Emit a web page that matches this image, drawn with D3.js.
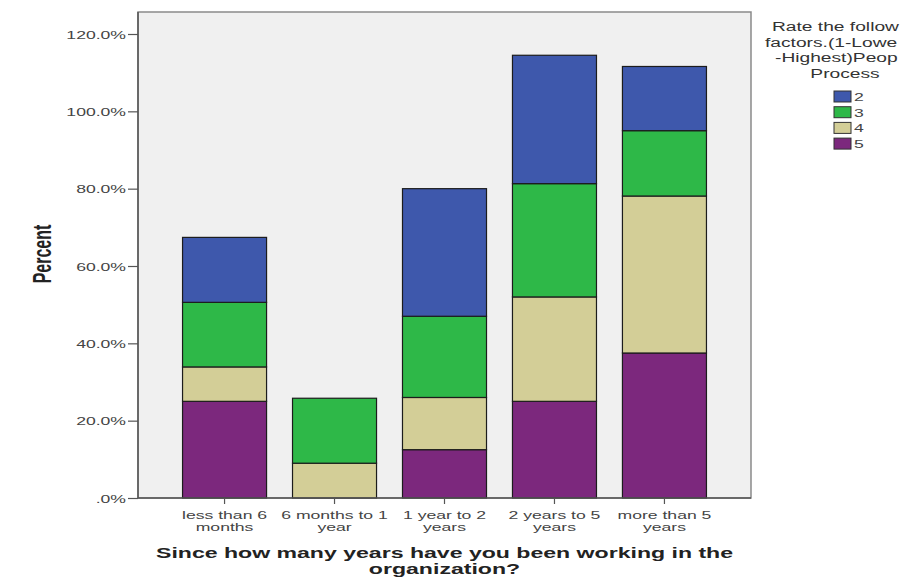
<!DOCTYPE html>
<html>
<head>
<meta charset="utf-8">
<script src="https://cdn.jsdelivr.net/npm/d3@7"></script>
<style>
  html, body { margin: 0; padding: 0; background: #ffffff; }
  svg { display: block; font-family: Arial, "Liberation Sans", sans-serif; }
</style>
</head>
<body>
<svg id="chart" width="903" height="583"></svg>
<script>
// ---- data ----
const categories = ["less than 6 months", "6 months to 1 year", "1 year to 2 years", "2 years to 5 years", "more than 5 years"];
const categoryLines = [["less than 6", "months"], ["6 months to 1", "year"], ["1 year to 2", "years"], ["2 years to 5", "years"], ["more than 5", "years"]];
const stackKeys = ["5", "4", "3", "2"];           // bottom to top
const rate5 = [25.0, 0.0, 12.5, 25.0, 37.5];
const rate4 = [8.9, 9.0, 13.5, 27.0, 40.6];
const rate3 = [16.7, 16.8, 21.0, 29.3, 16.9];
const rate2 = [16.8, 0.0, 33.0, 33.2, 16.6];
const yTicks = [0, 20, 40, 60, 80, 100, 120];
const legendKeys = ["2", "3", "4", "5"];
// legend title as visible in the reference (cut by the picture's right edge)
const legendTitleLines = ["Rate the follow", "factors.(1-Lowe", "-Highest)Peop", "Process"];
const yTitle = "Percent";
const xTitleLines = ["Since how many years have you been working in the", "organization?"];

// ---- build table ----
const seriesByKey = { "5": rate5, "4": rate4, "3": rate3, "2": rate2 };
const table = categories.map((c, i) => {
  const row = { category: c };
  stackKeys.forEach(k => row[k] = seriesByKey[k][i]);
  return row;
});
const colors = { "2": "#3e58ac", "3": "#2eb848", "4": "#d3ce97", "5": "#7c287d" };

// ---- layout ----
const SX = 1.6; // horizontal text stretch of the original
const frame = { left: 138, right: 751, top: 12, bottom: 498 };
const svg = d3.select("#chart");

const x = d3.scaleBand()
  .domain(categories)
  .range([frame.left, frame.right])
  .paddingInner(0.236)
  .paddingOuter(0.405);
const y = d3.scaleLinear().domain([0, 120]).range([498, 34]);

// plot background
svg.append("rect")
  .attr("x", frame.left).attr("y", frame.top)
  .attr("width", frame.right - frame.left).attr("height", frame.bottom - frame.top)
  .attr("fill", "#f0f0f0")
  .attr("stroke", "#8a8a8a").attr("stroke-width", 1.5);

// stacked bars
const stacked = d3.stack().keys(stackKeys)(table);
svg.append("g").selectAll("g")
  .data(stacked)
  .join("g")
  .attr("fill", d => colors[d.key])
  .selectAll("rect")
  .data(d => d.filter(s => s[1] - s[0] > 0))
  .join("rect")
  .attr("x", d => x(d.data.category))
  .attr("width", x.bandwidth())
  .attr("y", d => y(d[1]))
  .attr("height", d => y(d[0]) - y(d[1]))
  .attr("stroke", "#1c1c1c")
  .attr("stroke-width", 1.2);

// y axis
const yAxis = svg.append("g").attr("transform", `translate(${frame.left},0)`)
  .call(d3.axisLeft(y).tickValues(yTicks).tickSize(10).tickFormat(() => ""));
yAxis.select(".domain").remove();
yAxis.selectAll(".tick line").attr("stroke", "#555").attr("stroke-width", 1.2);
yAxis.selectAll(".tick").each(function (d) {
  d3.select(this).append("text")
    .attr("transform", `translate(-12,4) scale(${SX},1)`)
    .attr("text-anchor", "end")
    .attr("fill", "#444")
    .attr("font-size", 11)
    .text(d === 0 ? ".0%" : d.toFixed(1) + "%");
});
svg.append("line")
  .attr("x1", frame.left).attr("x2", frame.left)
  .attr("y1", frame.top).attr("y2", frame.bottom)
  .attr("stroke", "#555").attr("stroke-width", 1.5);

// x axis
const xAxis = svg.append("g").attr("transform", `translate(0,${frame.bottom})`)
  .call(d3.axisBottom(x).tickSize(6).tickFormat(() => ""));
xAxis.select(".domain").remove();
xAxis.selectAll(".tick line").attr("stroke", "#555").attr("stroke-width", 1.2);
xAxis.selectAll(".tick").each(function (d, i) {
  const g = d3.select(this);
  categoryLines[i].forEach((line, j) => {
    g.append("text")
      .attr("transform", `translate(0,${21 + j * 12}) scale(${SX},1)`)
      .attr("text-anchor", "middle")
      .attr("fill", "#444")
      .attr("font-size", 11)
      .text(line);
  });
});
svg.append("line")
  .attr("x1", frame.left).attr("x2", frame.right)
  .attr("y1", frame.bottom).attr("y2", frame.bottom)
  .attr("stroke", "#555").attr("stroke-width", 1.5);

// axis titles
svg.append("text")
  .attr("transform", `translate(51,254) scale(${SX},1) rotate(-90)`)
  .attr("text-anchor", "middle")
  .attr("font-weight", "bold")
  .attr("font-size", 16)
  .attr("fill", "#222")
  .text(yTitle);

const xMid = (frame.left + frame.right) / 2;
xTitleLines.forEach((line, j) => {
  svg.append("text")
    .attr("transform", `translate(${xMid},${558 + j * 16}) scale(1.65,1)`)
    .attr("text-anchor", "middle")
    .attr("font-weight", "bold")
    .attr("font-size", 14)
    .attr("fill", "#222")
    .text(line);
});

// legend title: the visible parts of the centred lines, starting where the reference shows them
const legendLineStarts = [772, 765, 775, null];
const legendCx = 845;
legendTitleLines.forEach((line, j) => {
  const t = svg.append("text")
    .attr("font-size", 12)
    .attr("fill", "#333")
    .text(line);
  if (legendLineStarts[j] === null) {
    t.attr("transform", `translate(${legendCx},${31 + j * 15.5}) scale(${SX},1)`)
     .attr("text-anchor", "middle");
  } else {
    t.attr("transform", `translate(${legendLineStarts[j]},${31 + j * 15.5}) scale(${SX},1)`)
     .attr("text-anchor", "start");
  }
});
const leg = svg.append("g").selectAll("g")
  .data(legendKeys)
  .join("g")
  .attr("transform", (d, i) => `translate(834,${91 + i * 15.7})`);
leg.append("rect")
  .attr("width", 17).attr("height", 11)
  .attr("fill", d => colors[d])
  .attr("stroke", "#333").attr("stroke-width", 1);
leg.append("text")
  .attr("transform", `translate(20,10) scale(${SX},1)`)
  .attr("font-size", 11)
  .attr("fill", "#444")
  .text(d => d);
</script>
</body>
</html>
